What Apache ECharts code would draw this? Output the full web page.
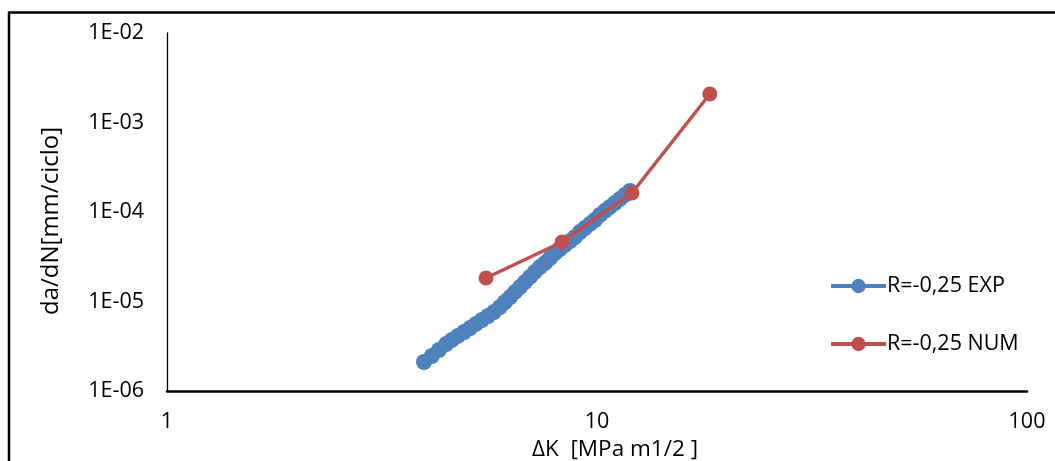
<!DOCTYPE html>
<html>
<head>
<meta charset="utf-8">
<title>da/dN vs ΔK</title>
<script src="https://cdn.jsdelivr.net/npm/echarts@6/dist/echarts.min.js"></script>
<style>
  html, body { margin: 0; padding: 0; background: #fff; }
  #chart { width: 1055px; height: 461px; }
</style>
</head>
<body>
<div id="chart"></div>
<script>
// Experimental crack growth rate, R = -0.25
const expDeltaK = [3.96, 4.13, 4.29, 4.46, 4.60, 4.75, 4.91, 5.07, 5.23, 5.40,
                   5.58, 5.76, 5.95, 6.11, 6.28, 6.45, 6.62, 6.80, 6.99, 7.17,
                   7.37, 7.57, 7.78, 7.99, 8.20, 8.42, 8.66, 8.89, 9.13, 9.38,
                   9.63, 9.89, 10.16, 10.44, 10.72, 11.01, 11.31, 11.62, 11.93];
const expDadn = [2.11e-6, 2.46e-6, 2.87e-6, 3.35e-6, 3.72e-6, 4.12e-6, 4.56e-6, 5.06e-6, 5.61e-6, 6.21e-6,
                 6.89e-6, 7.63e-6, 8.68e-6, 9.87e-6, 1.12e-5, 1.28e-5, 1.45e-5, 1.65e-5, 1.88e-5, 2.14e-5,
                 2.43e-5, 2.69e-5, 3.06e-5, 3.48e-5, 3.86e-5, 4.28e-5, 4.74e-5, 5.26e-5, 5.98e-5, 6.63e-5,
                 7.35e-5, 8.14e-5, 9.25e-5, 1.03e-4, 1.14e-4, 1.26e-4, 1.40e-4, 1.55e-4, 1.72e-4];

// Numerical prediction, R = -0.25
const numDeltaK = [5.52, 8.29, 12.06, 18.3];
const numDadn = [1.83e-5, 4.62e-5, 1.63e-4, 2.08e-3];

const seriesNames = ['R=-0,25 EXP', 'R=-0,25 NUM'];
const xTitle = 'ΔK  [MPa m1/2 ]';
const yTitle = 'da/dN[mm/ciclo]';

const FONT = '"Open Sans", "Liberation Sans", sans-serif';
const FS = 21.5;        // tick labels and legend
const FS_XTITLE = 22.5; // x axis title
const FS_YTITLE = 24;   // y axis title

function pairs(xs, ys) {
  return xs.map((x, i) => [x, ys[i]]);
}

function sciLabel(v) {
  const e = Math.round(Math.log10(v));
  const sign = e < 0 ? '-' : '+';
  const a = Math.abs(e);
  return '1E' + sign + (a < 10 ? '0' + a : a);
}

const chart = echarts.init(document.getElementById('chart'), null, { renderer: 'canvas' });

chart.setOption({
  animation: false,
  backgroundColor: '#ffffff',
  textStyle: { fontFamily: FONT, color: '#000' },
  grid: { left: 167, right: 28, top: 33, bottom: 70, containLabel: false, outerBoundsMode: 'none' },
  xAxis: {
    type: 'log',
    logBase: 10,
    min: 1,
    max: 100,
    name: xTitle,
    nameLocation: 'middle',
    nameGap: 40,
    nameTextStyle: { fontFamily: FONT, fontSize: FS_XTITLE, color: '#000', padding: [0, 0, 0, 36] },
    axisLine: { show: true, onZero: false, lineStyle: { color: '#000', width: 2.5 } },
    axisTick: { show: false },
    minorTick: { show: false },
    splitLine: { show: false },
    axisLabel: { fontFamily: FONT, fontSize: FS, color: '#000', margin: 20 }
  },
  yAxis: {
    type: 'log',
    logBase: 10,
    min: 1e-6,
    max: 1e-2,
    name: yTitle,
    nameLocation: 'middle',
    nameRotate: 90,
    nameGap: 104,
    nameTextStyle: { fontFamily: FONT, fontSize: FS_YTITLE, color: '#000', padding: [0, 18, 0, 0] },
    axisLine: { show: true, onZero: false, lineStyle: { color: '#000', width: 1.3 } },
    axisTick: { show: false },
    minorTick: { show: false },
    splitLine: { show: false },
    axisLabel: { fontFamily: FONT, fontSize: FS, color: '#000', margin: 23, formatter: sciLabel }
  },
  legend: {
    orient: 'vertical',
    left: 829,
    top: 275,
    padding: 0,
    itemWidth: 55,
    itemHeight: 18,
    itemGap: 36,
    lineStyle: { width: 4 },
    textStyle: { fontFamily: FONT, fontSize: FS, color: '#000', padding: [0, 0, 0, -4] },
    data: seriesNames
  },
  series: [
    {
      name: seriesNames[0],
      type: 'line',
      data: pairs(expDeltaK, expDadn),
      symbol: 'circle',
      symbolSize: 16,
      itemStyle: { color: '#4F81BD' },
      lineStyle: { color: '#4F81BD', width: 3.5 },
      z: 2
    },
    {
      name: seriesNames[1],
      type: 'line',
      data: pairs(numDeltaK, numDadn),
      symbol: 'circle',
      symbolSize: 15,
      itemStyle: { color: '#C0504D' },
      lineStyle: { color: '#C0504D', width: 3.5 },
      z: 3
    }
  ],
  graphic: [
    {
      type: 'rect',
      silent: true,
      shape: { x: 9, y: 12.5, width: 1100, height: 500 },
      style: { fill: 'none', stroke: '#000', lineWidth: 2.5 }
    }
  ]
});
</script>
</body>
</html>
